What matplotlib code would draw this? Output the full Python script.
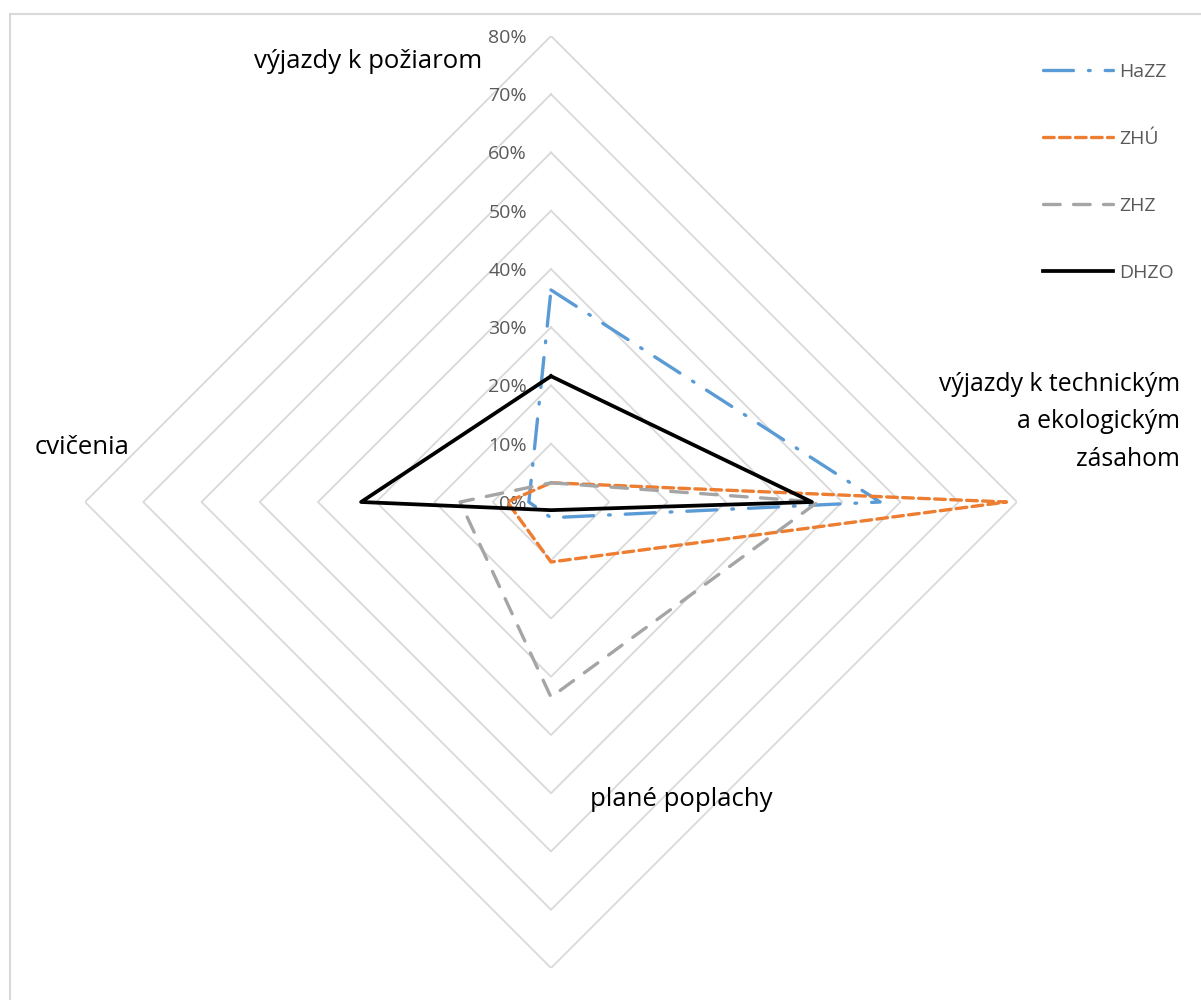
import matplotlib.pyplot as plt
import numpy as np
from matplotlib.lines import Line2D
from matplotlib.transforms import offset_copy

plt.rcParams['font.family'] = ['Open Sans', 'DejaVu Sans']

# kategórie zásahov (v smere hodinových ručičiek od vrchu)
categories = ["výjazdy k požiarom",
              "výjazdy k technickým\na ekologickým\nzásahom",
              "plané poplachy",
              "cvičenia"]

# podiely v %
hazz = [36.4, 56.5, 2.7, 3.8]
zhu = [3.3, 78.2, 10.3, 7.5]
zhz = [3.3, 45.8, 33.5, 15.6]
dhzo = [21.6, 44.8, 1.4, 32.6]

series_names = ["HaZZ", "ZHÚ", "ZHZ", "DHZO"]
levels = [0, 10, 20, 30, 40, 50, 60, 70, 80]

W, H = 1201, 1000
fig = plt.figure(figsize=(W / 100, H / 100), dpi=100)

cx, cy, R = 551, 502, 466
ax = fig.add_axes([(cx - R) / W, (H - cy - R) / H, 2 * R / W, 2 * R / H],
                  projection="polar")
ax.set_theta_offset(np.pi / 2)
ax.set_theta_direction(-1)
ax.set_ylim(0, 80)
ax.grid(False)
ax.spines["polar"].set_visible(False)
ax.set_xticks([])
ax.set_yticks([])
ax.patch.set_alpha(0)

theta = np.arange(len(categories)) * 2 * np.pi / len(categories)
closed = np.append(theta, theta[0])

# mriežka v tvare kosoštvorcov
for lv in levels[1:]:
    ax.plot(closed, [lv] * len(closed), color="#D9D9D9", lw=1.3, zorder=1)

# popisy osi
lab_tr = offset_copy(ax.transData, fig=fig, x=-24, y=-2, units="dots")
for lv in levels:
    ax.text(0, lv, f"{lv}%", transform=lab_tr, ha="right", va="center",
            fontsize=14, color="#595959", zorder=2)

def close(v):
    return v + v[:1]

styles = [
    dict(color="#5B9BD5", lw=2.4, linestyle=(0, (9, 4.5, 0.5, 4.5)),
         dash_capstyle="round"),
    dict(color="#ED7D31", lw=2.4, linestyle=(0, (3.2, 1.6)),
         dash_capstyle="round"),
    dict(color="#A5A5A5", lw=2.4, linestyle=(0, (5.0, 4.0)),
         dash_capstyle="round"),
    dict(color="#000000", lw=2.7, linestyle="-"),
]

handles = []
for vals, name, st in zip([hazz, zhu, zhz, dhzo], series_names, styles):
    ax.plot(closed, close(vals), label=name, zorder=3, **st)
    handles.append(Line2D([], [], label=name, **st))

leg = fig.legend(handles=handles, loc="upper left",
                 bbox_to_anchor=(1043 / W, 1 - 63 / H), frameon=False,
                 fontsize=14, handlelength=3.6, handletextpad=0.3,
                 labelspacing=2.52, borderpad=0, borderaxespad=0)
for t in leg.get_texts():
    t.set_color("#595959")

# názvy kategórií
fs = 18.5
fig.text(368 / W, 1 - 62 / H, categories[0], ha="center", va="center",
         fontsize=fs, color="#000000")
fig.text(1180 / W, 1 - 422 / H, categories[1], ha="right", va="center",
         fontsize=17.8, color="#000000", linespacing=1.68)
fig.text(35 / W, 1 - 448 / H, categories[3], ha="left", va="center",
         fontsize=fs, color="#000000")
fig.text(681 / W, 1 - 800 / H, categories[2], ha="center", va="center",
         fontsize=fs, color="#000000")

# rámik grafu
fig.add_artist(Line2D([10 / W, 10 / W], [0, 1 - 14 / H],
                      transform=fig.transFigure, color="#D9D9D9", lw=1.5))
fig.add_artist(Line2D([10 / W, 1], [1 - 14 / H, 1 - 14 / H],
                      transform=fig.transFigure, color="#D9D9D9", lw=1.5))

fig.savefig("out.png", dpi=100)
